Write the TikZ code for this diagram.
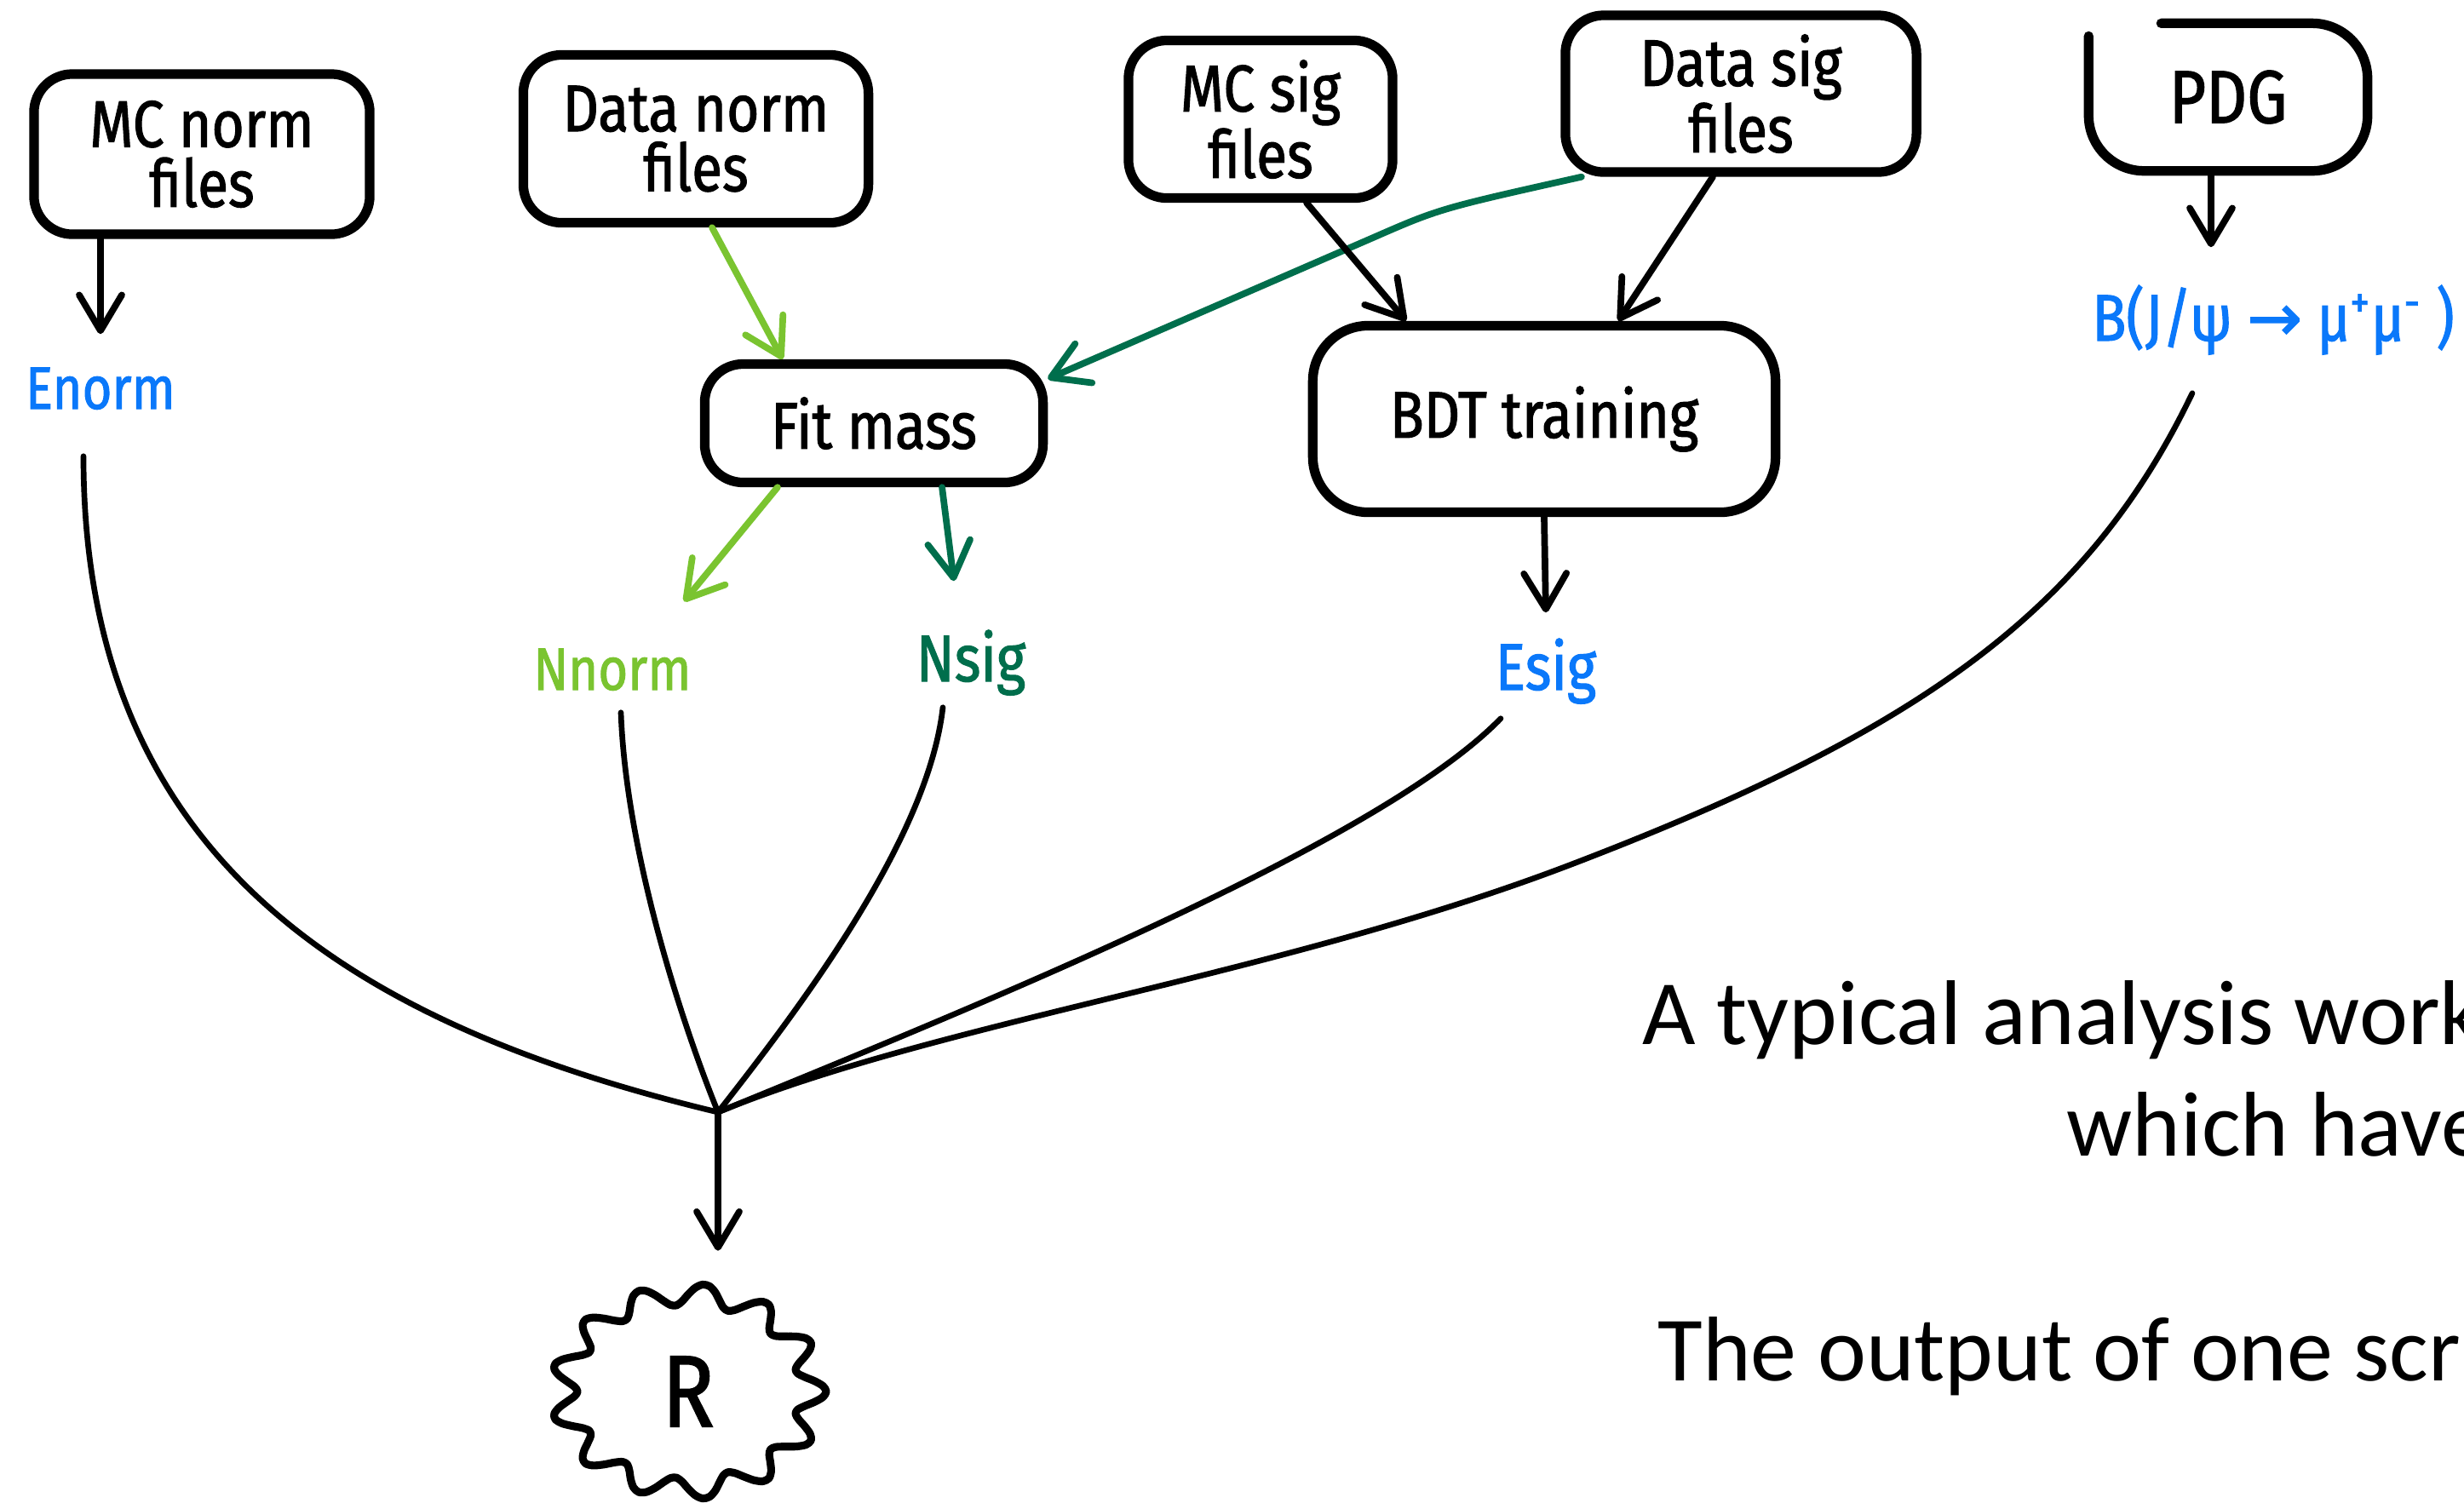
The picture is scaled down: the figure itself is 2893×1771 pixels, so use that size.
\documentclass[tikz,border=0pt]{standalone}
\usepackage{fontspec}
\setmainfont{Carlito}
\newfontfamily\hand[FakeStretch=0.85,FakeBold=1.4]{Fira Sans}
\newfontfamily\dejavu[FakeBold=1.4]{DejaVu Sans}
\usetikzlibrary{arrows.meta}
\definecolor{hblue}{RGB}{10,120,250}
\definecolor{lgreen}{RGB}{122,196,48}
\definecolor{dgreen}{RGB}{0,110,76}
\begin{document}
\begin{tikzpicture}[x=0.01cm,y=-0.01cm,
  box/.style={draw, line width=3.2pt, rounded corners=0.45cm, inner sep=0, align=center,
    font=\hand\fontsize{22}{20}\selectfont},
  lbl/.style={inner sep=0, anchor=base, font=\hand\fontsize{20}{22}\selectfont},
  arr/.style={line width=2.2pt, line cap=round,
    -{Straight Barb[length=4.2mm,width=5mm,line cap=round,line join=round]}},
  curve/.style={line width=1.9pt, line cap=round},
  big/.style={anchor=base west, inner sep=0, font=\fontsize{30.7}{36}\selectfont}]
\useasboundingbox[fill=white] (0,0) rectangle (2893,1771);

% boxes
\node[box, minimum width=3.94cm, minimum height=1.88cm] (mcn) at (237,181) {MC norm\\files};
\node[box, minimum width=4.05cm, minimum height=1.97cm] (dn) at (817,163) {Data norm\\files};
\node[box, minimum width=3.97cm, minimum height=1.39cm] (fit) at (1026,497) {Fit mass};
\node[box, minimum width=3.10cm, minimum height=1.85cm] (mcs) at (1480,140) {MC sig\\files};
\node[box, minimum width=4.12cm, minimum height=1.84cm] (dsig) at (2044,110) {Data sig\\files};
\node[box, draw=none, minimum width=3.16cm, minimum height=1.62cm, font=\hand\fontsize{25}{25}\selectfont] (pdg) at (2616,114) {PDG};
\draw[line width=3.2pt, line cap=round, rounded corners=0.65cm] ([xshift=0.85cm]pdg.north west) -- (pdg.north east)
  -- (pdg.south east) -- (pdg.south west) -- ([yshift=-0.15cm]pdg.north west);
\node[box, rounded corners=0.65cm, minimum width=5.43cm, minimum height=2.19cm] (bdt) at (1813,492) {BDT training};

% labels
\node[lbl, hblue, text height=0.87cm, text depth=0.55cm] (enorm) at (118,480) {Enorm};
\node[lbl, lgreen, text height=1.03cm, text depth=0.26cm] (nnorm) at (719,810) {Nnorm};
\node[lbl, dgreen, text height=1.17cm, text depth=0.30cm, font=\hand\fontsize{22}{24}\selectfont] (nsig) at (1140,800) {Nsig};
\node[lbl, hblue, text height=0.90cm, text depth=0.33cm, font=\hand\fontsize{22}{24}\selectfont] (esig) at (1815,810) {Esig};
\node[lbl, hblue, text height=1.09cm, text depth=0.61cm, font=\hand\fontsize{22}{24}\selectfont] (bjp) at (2669,400)
  {B(J/ψ {\dejavu →} μ\textsuperscript{+}μ\textsuperscript{-} )};

% result
\node[inner sep=0, minimum width=3.23cm, minimum height=2.55cm,
  font=\hand\fontsize{34}{34}\selectfont] (R) at (808,1634) {R};
\draw[line width=2.6pt, line join=round] plot[smooth cycle, variable=\t, samples=120, domain=0:357]
  ({808+146*(1+0.11*cos(13*\t))*cos(\t)}, {1634+114*(1+0.11*cos(13*\t))*sin(\t)});
\coordinate (J) at (843,1306);

% arrows
\draw[arr] (mcn.south -| enorm.north) -- (enorm.north);
\draw[arr, lgreen] ([xshift=0.19cm]dn.south) -- ([xshift=-1.07cm]fit.north);
\draw[arr, dgreen] ([xshift=-1.87cm]dsig.south) .. controls (1690,245) .. (1610,280) -- ([yshift=-0.23cm]fit.north east);
\draw[arr] ([xshift=0.54cm]mcs.south) -- ([xshift=-1.62cm]bdt.north);
\draw[arr] ([xshift=-0.33cm]dsig.south) -- ([xshift=0.87cm]bdt.north);
\draw[arr] ([xshift=-0.2cm]pdg.south) -- ([xshift=-0.73cm]bjp.north);
\draw[arr, lgreen] ([xshift=-1.13cm]fit.south) -- ([xshift=0.84cm]nnorm.north);
\draw[arr, dgreen] ([xshift=0.8cm]fit.south) -- ([xshift=-0.2cm]nsig.north);
\draw[arr] (bdt.south) -- (esig.north);

% merging curves
\draw[curve] ([xshift=-0.2cm]enorm.south) .. controls (98,1000) and (400,1200) .. (J);
\draw[curve] ([xshift=0.1cm]nnorm.south) .. controls (735,1000) and (800,1200) .. (J);
\draw[curve] ([xshift=-0.33cm]nsig.south) .. controls (1090,980) and (950,1170) .. (J);
\draw[curve] ([xshift=-0.53cm]esig.south) .. controls (1620,990) and (1150,1180) .. (J);
\draw[curve] ([xshift=-0.95cm]bjp.south) .. controls (2450,720) and (2250,860) .. (1845,1015)
  .. controls (1500,1147) and (1100,1200) .. (J);
\draw[arr, shorten >=0.37cm] (J) -- (J |- R.north);

% side text
\node[big] (t1) at (1928,1226) {A typical analysis work};
\node[big] (t2) at (2426,1357) {which have};
\node[big] (t3) at (1946,1621) {The output of one scri};
\end{tikzpicture}
\end{document}
